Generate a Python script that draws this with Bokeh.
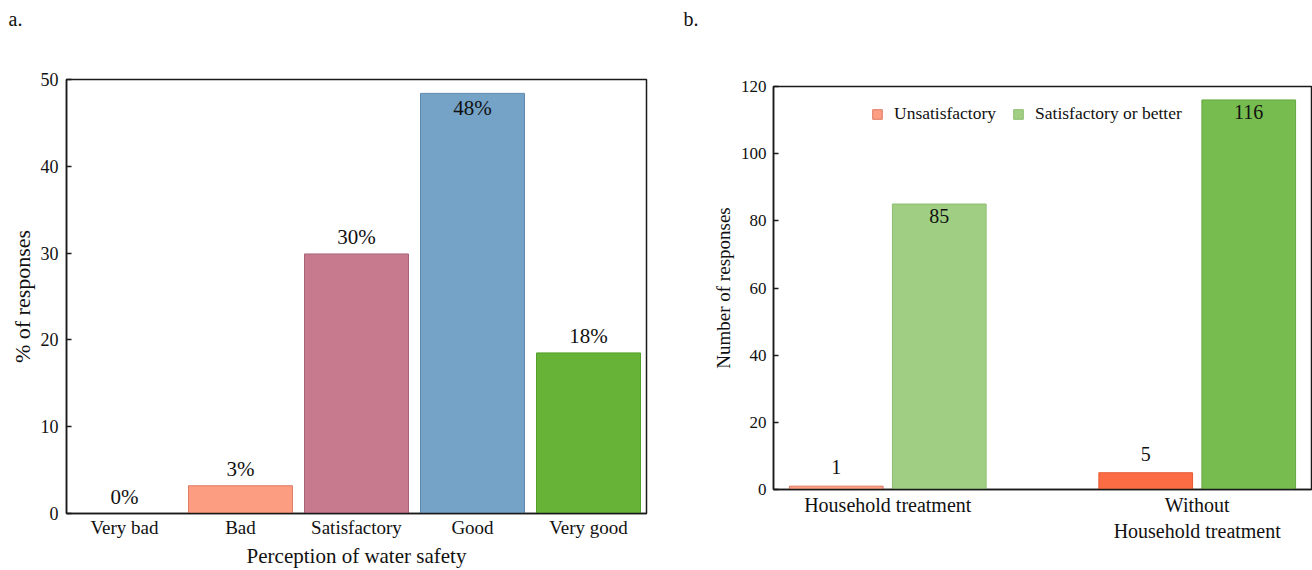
from bokeh.plotting import figure
from bokeh.models import ColumnDataSource, FactorRange, Range1d, Legend, LegendItem, Title
from bokeh.layouts import row, column
from bokeh.transform import dodge
from bokeh.embed import file_html
from bokeh.resources import INLINE
from bokeh.core.properties import value

FONT = "Liberation Serif"
INK = "#1a1a1a"

# ---------------- Panel a data ----------------
perception = ["Very bad", "Bad", "Satisfactory", "Good", "Very good"]
percent = [0.0, 3.2, 29.9, 48.4, 18.5]
percent_labels = ["0%", "3%", "30%", "48%", "18%"]
fill_a = ["#E8735A", "#FC9C80", "#C77A8E", "#75A2C7", "#66B337"]
line_a = ["#C85A44", "#E07D66", "#A9647A", "#5E88AE", "#55A02A"]

# ---------------- Panel b data ----------------
groups = ["Household treatment", "Without\nHousehold treatment"]
series = ["Unsatisfactory", "Satisfactory or better"]
unsatisfactory = [1, 5]
satisfactory = [85, 116]
fill_uns = ["#FB9E83", "#FC6C44"]
line_uns = ["#E27B62", "#E55A34"]
fill_sat = ["#A0CF84", "#77BC4F"]
line_sat = ["#8CBE6E", "#67A843"]

panel_titles = ["a.", "b."]


def style(p):
    p.xgrid.visible = False
    p.ygrid.visible = False
    p.outline_line_color = INK
    p.outline_line_width = 1.5
    p.outline_line_alpha = 1
    p.background_fill_color = "white"
    p.border_fill_color = "white"
    p.axis.axis_line_color = INK
    p.axis.axis_line_width = 1.5
    p.xaxis.major_tick_line_color = None
    p.xaxis.minor_tick_line_color = None
    p.yaxis.major_tick_in = 5
    p.yaxis.major_tick_out = 0
    p.yaxis.major_tick_line_color = INK
    p.yaxis.major_tick_line_width = 1.5
    p.yaxis.minor_tick_line_color = None
    p.axis.major_label_text_font = FONT
    p.axis.major_label_text_color = "#111111"
    p.axis.axis_label_text_font = FONT
    p.axis.axis_label_text_font_style = "normal"
    p.axis.axis_label_text_color = "#111111"


def add_panel_title(p, text, spacer, offset):
    # spacer keeps the panel letter near the top edge of the figure
    p.add_layout(Title(text=" ", text_font=FONT, text_font_size="20px",
                       standoff=spacer), "above")
    p.add_layout(Title(text=text, text_font=FONT, text_font_size="20px",
                       text_font_style="normal", text_color="#111111",
                       align="left", offset=offset, standoff=0), "above")


# ---------------- Panel a ----------------
p1 = figure(x_range=FactorRange(*perception, range_padding=0), y_range=Range1d(0, 50),
            width=680, height=570, output_backend="svg", toolbar_location=None,
            min_border_left=66, min_border_right=34, min_border_top=79, min_border_bottom=57)
style(p1)
add_panel_title(p1, panel_titles[0], 26, -58)

src_a = ColumnDataSource(dict(cat=perception, pct=percent, label=percent_labels,
                              fill=fill_a, line=line_a))
p1.vbar(x="cat", top="pct", width=104 / 116, source=src_a,
        fill_color="fill", line_color="line", line_width=1)

thr_a = 0.9 * max(percent)
above_a = ColumnDataSource(dict(
    cat=[c for c, v in zip(perception, percent) if v <= thr_a],
    pct=[v for v in percent if v <= thr_a],
    label=[l for l, v in zip(percent_labels, percent) if v <= thr_a]))
inside_a = ColumnDataSource(dict(
    cat=[c for c, v in zip(perception, percent) if v > thr_a],
    pct=[v for v in percent if v > thr_a],
    label=[l for l, v in zip(percent_labels, percent) if v > thr_a]))
p1.text(x="cat", y="pct", text="label", source=above_a, text_align="center",
        text_baseline="bottom", y_offset=-5, text_font=value(FONT),
        text_font_size="21px", text_color="#111111")
p1.text(x="cat", y="pct", text="label", source=inside_a, text_align="center",
        text_baseline="top", y_offset=3, text_font=value(FONT),
        text_font_size="21px", text_color="#111111")

p1.yaxis.ticker = [0, 10, 20, 30, 40, 50]
p1.yaxis.major_label_text_font_size = "18px"
p1.yaxis.major_label_standoff = 8
p1.xaxis.major_label_text_font_size = "19px"
p1.xaxis.major_label_standoff = -3
p1.yaxis.axis_label = "% of responses"
p1.yaxis.axis_label_text_font_size = "22px"
p1.yaxis.axis_label_standoff = 3
p1.xaxis.axis_label = "Perception of water safety"
p1.xaxis.axis_label_text_font_size = "21px"
p1.xaxis.axis_label_standoff = 3

# ---------------- Panel b ----------------
p2 = figure(x_range=FactorRange(*groups, factor_padding=0.354, range_padding=0),
            y_range=Range1d(0, 120),
            width=632, height=570, output_backend="svg", toolbar_location=None,
            min_border_left=93, min_border_right=1, min_border_top=86, min_border_bottom=81)
style(p2)
add_panel_title(p2, panel_titles[1], 33, -90)

off = 0.2254
bw = 0.41
src_b = ColumnDataSource(dict(grp=groups, uns=unsatisfactory, sat=satisfactory,
                              fu=fill_uns, lu=line_uns, fs=fill_sat, ls=line_sat))
r1 = p2.vbar(x=dodge("grp", -off, range=p2.x_range), top="uns", width=bw, source=src_b,
             fill_color="fu", line_color="lu", line_width=1)
r2 = p2.vbar(x=dodge("grp", off, range=p2.x_range), top="sat", width=bw, source=src_b,
             fill_color="fs", line_color="ls", line_width=1)

thr_b = 0.5 * max(satisfactory + unsatisfactory)
for vals, o in ((unsatisfactory, -off), (satisfactory, off)):
    for inside in (False, True):
        idx = [i for i, v in enumerate(vals) if (v > thr_b) == inside]
        if not idx:
            continue
        s = ColumnDataSource(dict(grp=[groups[i] for i in idx],
                                  v=[vals[i] for i in idx],
                                  t=[str(vals[i]) for i in idx]))
        p2.text(x=dodge("grp", o, range=p2.x_range), y="v", text="t", source=s,
                text_align="center", text_baseline="top" if inside else "bottom",
                y_offset=5 if inside else -12, text_font=value(FONT),
                text_font_size="20px", text_color="#111111")

legend = Legend(items=[LegendItem(label=series[0], renderers=[r1], index=0),
                       LegendItem(label=series[1], renderers=[r2], index=0)],
                orientation="horizontal", location=(98, 365),
                glyph_width=12, glyph_height=12, label_standoff=11, spacing=16,
                padding=0, margin=0, border_line_color=None, background_fill_alpha=0,
                label_text_font=FONT, label_text_font_size="17.5px",
                label_text_color="#111111")
p2.add_layout(legend)

p2.yaxis.ticker = [0, 20, 40, 60, 80, 100, 120]
p2.yaxis.major_label_text_font_size = "17px"
p2.yaxis.major_label_standoff = 7
p2.xaxis.major_label_text_font_size = "20px"
p2.xaxis.major_label_standoff = -2
p2.yaxis.axis_label = "Number of responses"
p2.yaxis.axis_label_text_font_size = "19px"
p2.yaxis.axis_label_standoff = 4

layout = row(column(p1), column(p2))
open("out.html", "w").write(file_html(layout, INLINE))
